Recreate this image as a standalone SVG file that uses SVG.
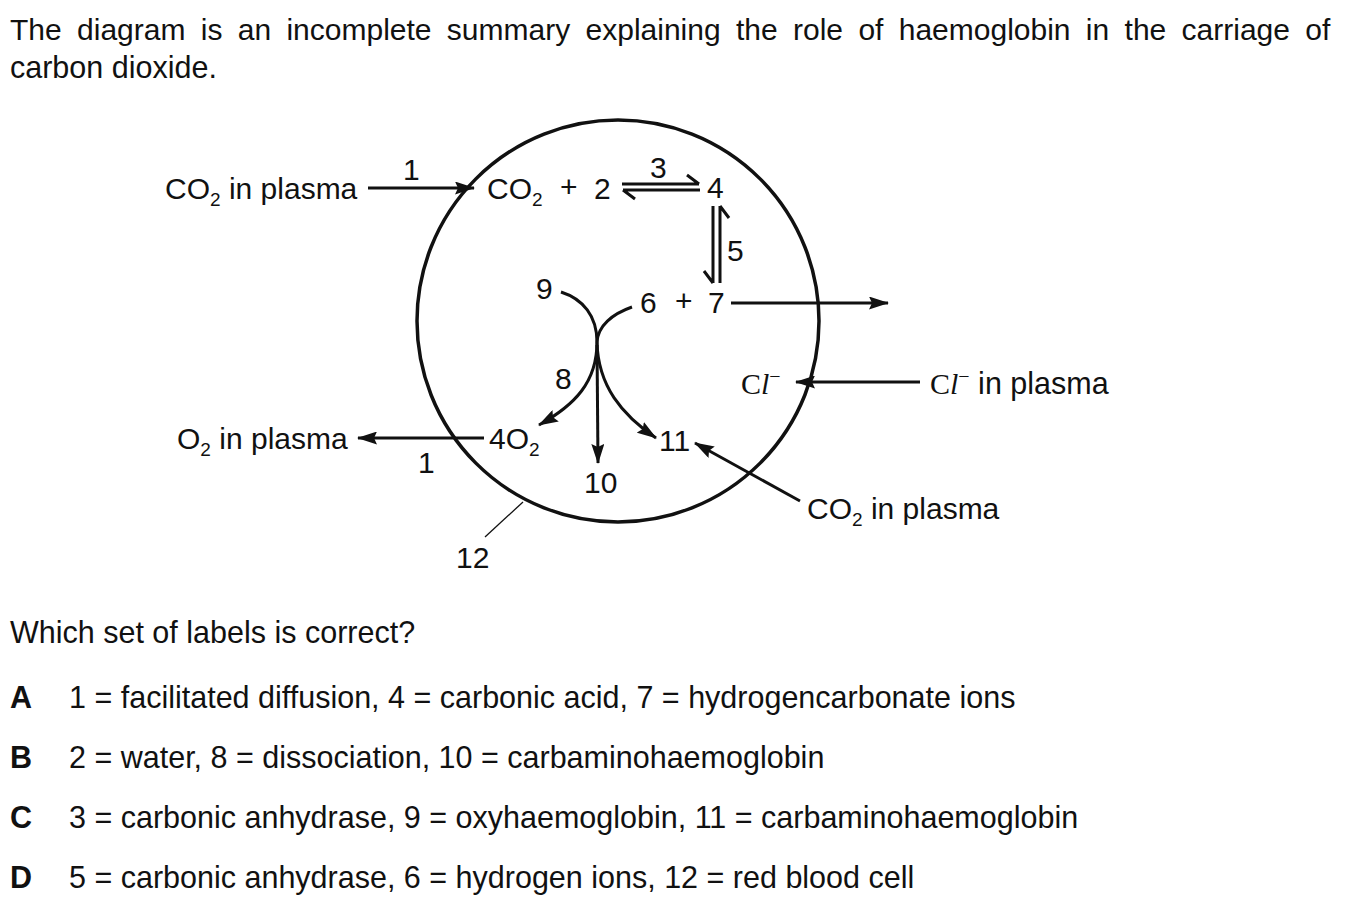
<svg xmlns="http://www.w3.org/2000/svg" width="1345" height="905" viewBox="0 0 1345 905">
<defs>
<style>
text{font-family:"Liberation Sans",Arial,sans-serif;font-size:30px;fill:#111}
.opt{font-size:30.5px}
.sub{font-size:19px}
.serif{font-family:"Liberation Serif","Times New Roman",serif}
.b{font-weight:bold}
.ln{fill:none;stroke:#111;stroke-width:3}
.thin{fill:none;stroke:#111;stroke-width:1.3}
.cell{fill:none;stroke:#111;stroke-width:3.5}
</style>
<marker id="ah" viewBox="0 0 20 13" refX="19" refY="6.5" markerWidth="20" markerHeight="13" markerUnits="userSpaceOnUse" orient="auto">
<path d="M0,0 L20,6.5 L0,13 L3,6.5 z" fill="#111"/>
</marker>
</defs>
<rect width="1345" height="905" fill="#fff"/>

<g id="question">
<text x="10" y="40" word-spacing="7">The diagram is an incomplete summary explaining the role of haemoglobin in the carriage of</text>
<text x="10" y="78" class="opt">carbon dioxide.</text>
</g>

<g id="cell">
<circle class="cell" cx="618" cy="321" r="201"/>
</g>

<g id="connectors">
<line class="ln" x1="368" y1="188" x2="474" y2="188" marker-end="url(#ah)"/>
<path class="ln" d="M622,184 L699,184 M687,175 L699,184"/>
<path class="ln" d="M700,190 L623,190 M623,190 L635,199"/>
<path class="ln" d="M713,206 L713,283 M704,271 L713,283"/>
<path class="ln" d="M720,283 L720,206 M720,206 L729,218"/>
<line class="ln" x1="731" y1="303" x2="888" y2="303" marker-end="url(#ah)"/>
<line class="ln" x1="920" y1="382" x2="796" y2="382" marker-end="url(#ah)"/>
<line class="ln" x1="484" y1="438" x2="358" y2="438" marker-end="url(#ah)"/>
<line class="ln" x1="800" y1="501" x2="695" y2="443" marker-end="url(#ah)"/>
<path class="ln" d="M561,292 C583,299 597,316 597,342"/>
<path class="ln" d="M632,307 C612,314 598,326 597,342"/>
<path class="ln" d="M597,342 C597,382 575,405 539,425" marker-end="url(#ah)"/>
<path class="ln" d="M597,342 C598,386 622,415 656,438" marker-end="url(#ah)"/>
<path class="ln" d="M597,345 L598,463" marker-end="url(#ah)"/>
<line class="thin" x1="523" y1="502" x2="485" y2="537"/>
</g>

<g id="n-co2-plasma-top"><text x="165" y="199">CO<tspan class="sub" dy="7">2</tspan><tspan dy="-7"> in plasma</tspan></text></g>
<g id="l1-top"><text x="403" y="180">1</text></g>
<g id="n-co2-in"><text x="487" y="199">CO<tspan class="sub" dy="7">2</tspan></text></g>
<g id="plus1"><text x="560" y="197" font-size="24">+</text></g>
<g id="n2"><text x="594" y="199">2</text></g>
<g id="n3"><text x="650" y="178">3</text></g>
<g id="n4"><text x="707" y="198">4</text></g>
<g id="n5"><text x="727" y="261">5</text></g>
<g id="n9"><text x="536" y="299">9</text></g>
<g id="n6"><text x="640" y="313">6</text></g>
<g id="plus2"><text x="675" y="311" font-size="24">+</text></g>
<g id="n7"><text x="708" y="313">7</text></g>
<g id="n8"><text x="555" y="389">8</text></g>
<g id="cl-in"><text class="serif" x="741" y="394">C<tspan font-style="italic">l</tspan><tspan font-size="20" dy="-11">−</tspan></text></g>
<g id="cl-plasma"><text x="930" y="394"><tspan class="serif">C<tspan font-style="italic">l</tspan><tspan font-size="20" dy="-11">−</tspan></tspan><tspan dy="11" font-size="30.5"> in plasma</tspan></text></g>
<g id="n-o2-plasma"><text x="177" y="449">O<tspan class="sub" dy="7">2</tspan><tspan dy="-7"> in plasma</tspan></text></g>
<g id="n-4o2"><text x="489" y="449">4O<tspan class="sub" dy="7">2</tspan></text></g>
<g id="l1-bottom"><text x="418" y="473">1</text></g>
<g id="n10"><text x="584" y="493">10</text></g>
<g id="n11"><text x="659" y="451">11</text></g>
<g id="n-co2-plasma-bottom"><text x="807" y="519">CO<tspan class="sub" dy="7">2</tspan><tspan dy="-7"> in plasma</tspan></text></g>
<g id="n12"><text x="456" y="568">12</text></g>

<g id="options">
<text class="opt" x="10" y="643">Which set of labels is correct?</text>
<text class="b opt" x="10" y="708">A</text>
<text class="opt" x="69" y="708">1 = facilitated diffusion, 4 = carbonic acid, 7 = hydrogencarbonate ions</text>
<text class="b opt" x="10" y="768">B</text>
<text class="opt" x="69" y="768">2 = water, 8 = dissociation, 10 = carbaminohaemoglobin</text>
<text class="b opt" x="10" y="828">C</text>
<text class="opt" x="69" y="828">3 = carbonic anhydrase, 9 = oxyhaemoglobin, 11 = carbaminohaemoglobin</text>
<text class="b opt" x="10" y="888">D</text>
<text class="opt" x="69" y="888">5 = carbonic anhydrase, 6 = hydrogen ions, 12 = red blood cell</text>
</g>
</svg>
